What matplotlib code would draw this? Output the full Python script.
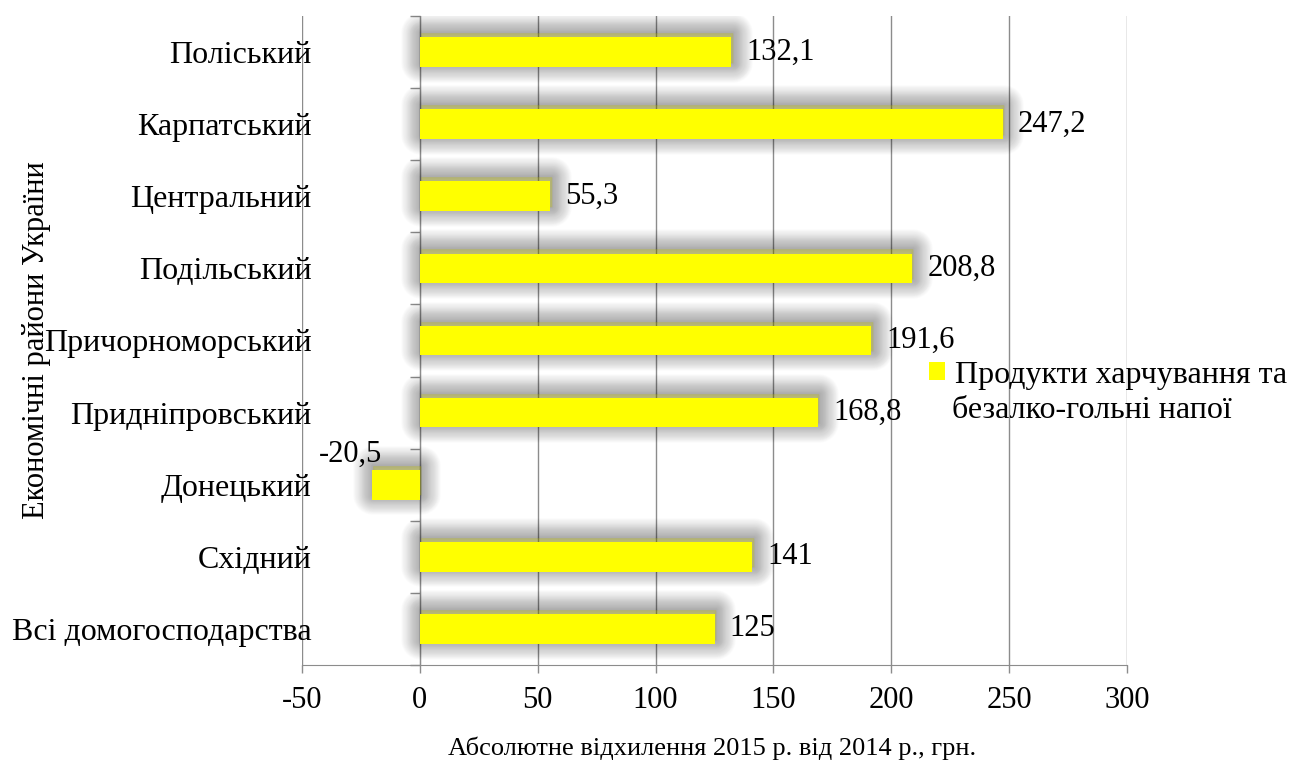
import matplotlib
matplotlib.use("Agg")
import matplotlib.pyplot as plt
import matplotlib.patheffects as pe
from matplotlib.ticker import MultipleLocator, FixedLocator
import numpy as np

categories = ["Поліський", "Карпатський", "Центральний", "Подільський",
              "Причорноморський", "Придніпровський", "Донецький", "Східний",
              "Всі домогосподарства"]
values = [132.1, 247.2, 55.3, 208.8, 191.6, 168.8, -20.5, 141, 125]
series_name = "Продукти харчування та"
series_name_2 = "безалко-гольні напої"
xlabel = "Абсолютне відхилення 2015 р. від 2014 р., грн."
ylabel = "Економічні райони України"

plt.rcParams['font.family'] = ['Liberation Serif', 'DejaVu Serif']
plt.rcParams['axes.unicode_minus'] = False
FS = 22
GRAY = '#8c8c8c'

fig = plt.figure(figsize=(12.89, 7.62), dpi=100)
ax = fig.add_axes([302/1289, 1-665/762, (1127-302)/1289, (665-16)/762])

y = np.arange(len(categories))[::-1]

shadow = []
N = 22
for k in range(N):
    shadow.append(pe.Stroke(linewidth=1.3*(k+1), foreground='black', alpha=0.016,
                            offset=(1.0, 3.0), joinstyle='round'))
shadow.append(pe.Normal())

bars = ax.barh(y, values, height=0.41, color='#ffff00', zorder=3, label=series_name)
for b in bars:
    b.set_path_effects(shadow)

labels = [f"{v:g}".replace('.', ',') for v in values]
texts = ax.bar_label(bars, labels=labels, padding=11, fontsize=FS, zorder=4)
for t, v in zip(texts, values):
    if v < 0:
        t.xyann = (-15, 22)
        t.set_ha('center')
        t.set_va('center')

ax.set_xlim(-50, 300)
ax.set_ylim(-0.5, len(categories) - 0.5)
ax.xaxis.set_major_locator(MultipleLocator(50))
ax.grid(axis='x', color=GRAY, linewidth=1.0, zorder=0)
ax.set_axisbelow(True)

ax.spines['left'].set_position(('data', 0))
ax.spines['left'].set_color(GRAY)
ax.spines['left'].set_zorder(2)
ax.set_yticks(y)
ax.set_yticklabels(categories)
ax.yaxis.set_minor_locator(FixedLocator(np.arange(len(categories)+1) - 0.5))
ax.tick_params(axis='y', which='major', length=0, pad=78, labelsize=23)
ax.tick_params(axis='y', which='minor', length=7, width=1, color=GRAY, direction='out')
for side in ['top', 'right']:
    ax.spines[side].set_visible(False)
ax.spines['bottom'].set_color(GRAY)
ax.tick_params(axis='x', which='major', length=6, width=1, color=GRAY,
               direction='out', labelsize=FS, pad=9)

ax.set_xlabel(xlabel, fontsize=19, va='center')
ax.xaxis.set_label_coords(712/1289, 1-748/762, transform=fig.transFigure)
fig.text(37/1289, 1-340/762, ylabel, rotation=90, fontsize=FS, ha='center', va='center')

leg = fig.legend(handles=[bars], labels=[series_name], loc='center left',
                 bbox_to_anchor=(929/1289, 1-375/762), frameon=False, fontsize=23,
                 handlelength=0.5, handleheight=0.5, handletextpad=0.3,
                 borderpad=0, borderaxespad=0)
for h in leg.legend_handles:
    h.set_path_effects([pe.Normal()])
fig.text(952/1289, 1-410/762, series_name_2, fontsize=23, ha='left', va='center')

fig.savefig('out.png', dpi=100)
